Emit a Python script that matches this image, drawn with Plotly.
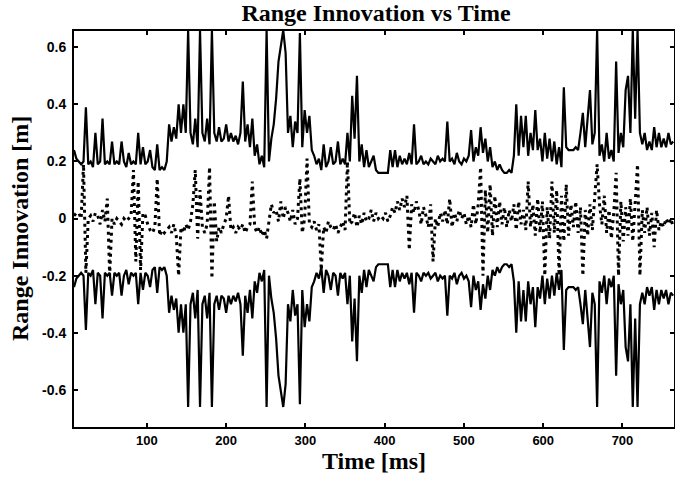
import plotly.graph_objects as go

# Sampling grid (ms)
time_ms = list(range(8, 767, 3))

# Upper innovation bound (lower bound is its negative)
bound_m = [
    0.24, 0.21, 0.20, 0.19, 0.20, 0.39, 0.19, 0.20, 0.18, 0.30,
    0.19, 0.20, 0.35, 0.19, 0.20, 0.19, 0.27, 0.19, 0.20, 0.19,
    0.27, 0.20, 0.18, 0.23, 0.19, 0.20, 0.19, 0.30, 0.19, 0.25,
    0.19, 0.20, 0.24, 0.18, 0.17, 0.26, 0.17, 0.18, 0.17, 0.20,
    0.33, 0.27, 0.32, 0.28, 0.40, 0.30, 0.40, 0.30, 0.66, 0.30,
    0.26, 0.35, 0.25, 0.66, 0.30, 0.27, 0.35, 0.26, 0.66, 0.30,
    0.27, 0.32, 0.27, 0.28, 0.33, 0.27, 0.30, 0.27, 0.29, 0.26,
    0.30, 0.48, 0.27, 0.33, 0.25, 0.35, 0.22, 0.26, 0.19, 0.22,
    0.18, 0.66, 0.20, 0.28, 0.33, 0.42, 0.55, 0.60, 0.66, 0.58,
    0.30, 0.36, 0.25, 0.34, 0.30, 0.65, 0.25, 0.38, 0.30, 0.36,
    0.24, 0.22, 0.19, 0.21, 0.17, 0.26, 0.18, 0.20, 0.25, 0.19,
    0.20, 0.27, 0.19, 0.21, 0.19, 0.30, 0.20, 0.43, 0.28, 0.50,
    0.20, 0.26, 0.18, 0.24, 0.18, 0.20, 0.22, 0.17, 0.16, 0.16,
    0.16, 0.16, 0.16, 0.24, 0.18, 0.24, 0.18, 0.22, 0.19, 0.21,
    0.19, 0.23, 0.19, 0.33, 0.19, 0.20, 0.22, 0.19, 0.20, 0.19,
    0.21, 0.20, 0.19, 0.22, 0.20, 0.21, 0.20, 0.34, 0.20, 0.21,
    0.19, 0.23, 0.20, 0.19, 0.21, 0.20, 0.22, 0.31, 0.20, 0.25,
    0.22, 0.32, 0.23, 0.28, 0.20, 0.25, 0.18, 0.20, 0.17, 0.19,
    0.17, 0.16, 0.16, 0.17, 0.16, 0.22, 0.40, 0.22, 0.36, 0.25,
    0.36, 0.22, 0.30, 0.24, 0.38, 0.24, 0.28, 0.20, 0.30, 0.21,
    0.28, 0.20, 0.27, 0.19, 0.25, 0.18, 0.46, 0.25, 0.24, 0.24,
    0.24, 0.25, 0.24, 0.30, 0.37, 0.25, 0.36, 0.45, 0.26, 0.30,
    0.66, 0.22, 0.26, 0.20, 0.30, 0.21, 0.24, 0.20, 0.55, 0.23,
    0.30, 0.25, 0.45, 0.50, 0.30, 0.66, 0.35, 0.66, 0.30, 0.26,
    0.30, 0.24, 0.27, 0.24, 0.32, 0.25, 0.30, 0.25, 0.28, 0.25,
    0.30, 0.26, 0.27,
]

# Range innovation (dotted)
innovation_m = [
    0.01, 0.02, 0.02, 0.00, 0.19, -0.19, 0.00, 0.01, -0.01, 0.02,
    0.01, -0.02, 0.03, -0.01, 0.07, -0.20, 0.00, -0.02, 0.00, -0.01,
    -0.02, 0.00, -0.01, 0.00, 0.01, 0.17, -0.15, 0.13, -0.18, 0.02,
    0.01, -0.02, -0.04, -0.05, -0.03, 0.14, -0.06, -0.04, -0.05, -0.04,
    -0.03, -0.05, -0.02, -0.06, -0.20, -0.03, -0.05, -0.02, -0.04, -0.01,
    0.05, 0.17, -0.07, 0.10, -0.03, -0.05, -0.02, 0.18, -0.21, 0.06,
    -0.08, -0.03, -0.05, -0.02, 0.00, 0.08, -0.04, -0.03, -0.05, -0.03,
    -0.04, -0.02, -0.05, -0.03, -0.02, 0.13, -0.03, -0.05, -0.03, -0.06,
    -0.04, -0.07, 0.00, 0.05, 0.02, 0.03, -0.01, 0.06, 0.00, 0.04,
    0.02, -0.01, 0.03, -0.02, 0.00, 0.14, -0.05, 0.00, 0.21, -0.02,
    -0.03, -0.01, -0.04, -0.02, -0.18, -0.03, -0.05, -0.01, -0.03, -0.04,
    -0.02, -0.05, -0.03, -0.01, -0.04, 0.20, -0.02, -0.01, 0.02, -0.03,
    0.01, -0.02, 0.02, -0.01, 0.00, 0.03, -0.01, 0.02, 0.00, 0.01,
    0.00, 0.02, -0.01, 0.01, 0.04, 0.02, 0.06, 0.03, 0.07, 0.04,
    0.08, -0.11, 0.05, 0.02, 0.06, 0.03, -0.02, 0.04, 0.01, -0.03,
    0.05, -0.15, 0.00, -0.03, 0.02, -0.01, 0.03, -0.02, 0.07, -0.03,
    0.02, -0.01, 0.03, 0.00, 0.02, -0.02, 0.01, -0.03, 0.05, -0.02,
    0.05, 0.18, -0.20, 0.10, -0.05, 0.12, -0.06, 0.08, -0.03, 0.06,
    -0.02, 0.04, -0.03, 0.03, -0.01, 0.05, -0.04, 0.06, -0.02, 0.03,
    -0.04, 0.13, -0.03, 0.05, -0.06, 0.07, -0.05, 0.06, -0.20, 0.04,
    -0.07, 0.13, -0.05, 0.10, -0.20, 0.08, -0.08, 0.12, -0.06, 0.05,
    -0.03, 0.06, -0.05, 0.04, -0.20, 0.03, -0.06, 0.05, -0.04, 0.06,
    0.19, 0.05, -0.02, 0.08, -0.05, 0.03, -0.07, 0.02, 0.16, -0.20,
    0.06, -0.08, 0.04, -0.06, 0.07, -0.08, 0.05, 0.19, -0.20, 0.03,
    -0.05, 0.04, -0.06, 0.02, -0.10, 0.03, -0.04, -0.01, -0.03, 0.00,
    -0.02, 0.00, -0.03,
]

x_tick_vals = [100, 200, 300, 400, 500, 600, 700]
x_tick_text = ["100", "200", "300", "400", "500", "600", "700"]
y_tick_vals = [-0.6, -0.4, -0.2, 0, 0.2, 0.4, 0.6]
y_tick_text = ["-0.6", "-0.4", "-0.2", "0", "0.2", "0.4", "0.6"]

lower_bound_m = [-v for v in bound_m]

fig = go.Figure()
fig.add_trace(go.Scatter(x=time_ms, y=bound_m, mode="lines",
                         line=dict(color="black", width=2.2), showlegend=False))
fig.add_trace(go.Scatter(x=time_ms, y=lower_bound_m, mode="lines",
                         line=dict(color="black", width=2.2), showlegend=False))
fig.add_trace(go.Scatter(x=time_ms, y=innovation_m, mode="lines",
                         line=dict(color="black", width=3, dash="3px,4px"),
                         showlegend=False))

serif = "Liberation Serif, Times New Roman, serif"
sans = "Liberation Sans, Arial, sans-serif"

fig.update_layout(
    width=675, height=477,
    margin=dict(l=74, r=1, t=31, b=50),
    paper_bgcolor="white", plot_bgcolor="white",
    title=dict(text="<b>Range Innovation vs Time</b>", x=0.557, xanchor="center",
               y=0.974, yanchor="middle", yref="container",
               font=dict(family=serif, size=24, color="black")),
    xaxis=dict(range=[8, 765], tickvals=x_tick_vals, ticktext=x_tick_text,
               ticks="inside", ticklen=4, tickwidth=1.5, tickcolor="black",
               showline=True, linewidth=2, linecolor="black", mirror="ticks",
               showgrid=False, zeroline=False, automargin=False,
               tickfont=dict(family=sans, size=13, color="black", weight="bold"),
               title=dict(text="<b>Time [ms]</b>", standoff=0,
                          font=dict(family=serif, size=24, color="black"))),
    yaxis=dict(range=[-0.73, 0.657], tickvals=y_tick_vals, ticktext=y_tick_text,
               ticks="inside", ticklen=4, tickwidth=1.5, tickcolor="black",
               showline=True, linewidth=2, linecolor="black", mirror="ticks",
               showgrid=False, zeroline=False, automargin=False,
               ticklabelstandoff=3,
               tickfont=dict(family=sans, size=14, color="black", weight="bold")),
    annotations=[dict(text="<b>Range Innovation [m]</b>", textangle=-90,
                      xref="paper", yref="paper", x=-0.09, y=0.5,
                      xanchor="center", yanchor="middle", showarrow=False,
                      font=dict(family=serif, size=24, color="black"))],
)

fig.write_html("out.html", config={"displayModeBar": False},
               post_script="document.body.style.margin='0';document.body.style.overflow='hidden';")
